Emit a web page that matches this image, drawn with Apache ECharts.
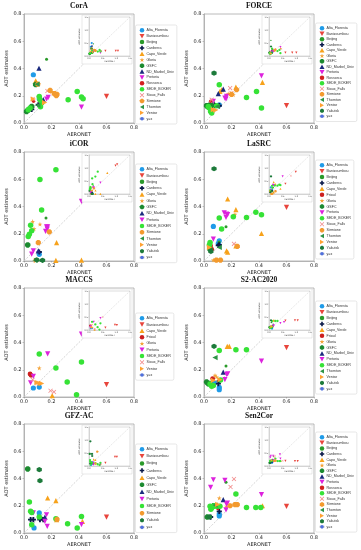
<!DOCTYPE html>
<html><head><meta charset="utf-8">
<script src="https://cdn.jsdelivr.net/npm/echarts@6/dist/echarts.min.js"></script>
<style>html,body{margin:0;padding:0;background:#fff}#c{width:361px;height:550px}</style>
</head><body><div id="c"></div><script>
// ---------------- DATA ----------------
const panelTitles = ['CorA','FORCE','iCOR','LaSRC','MACCS','S2-AC2020','GFZ-AC','Sen2Cor'];
const mainTicks = [0.0,0.2,0.4,0.6,0.8];
const insetTicks = [0.0,0.5,1.0,1.5];

const coraPoints = [
 ['Alta_Floresta',0.068,0.354],['Alta_Floresta',0.111,0.178],
 ['Banizoumbou',0.60,0.195],
 ['Beijing',0.164,0.468],
 ['Canberra',0.104,0.134],['Canberra',0.056,0.10],
 ['Capo_Verde',0.085,0.31],['Capo_Verde',0.092,0.293],['Capo_Verde',0.23,0.22],
 ['Gloria',0.20,0.23],['Gloria',0.104,0.19],
 ['GSFC',0.085,0.282],['GSFC',0.019,0.085],['GSFC',0.048,0.11],['GSFC',0.056,0.122],['GSFC',0.03,0.095],
 ['ND_Marbel_Univ',0.109,0.402],['ND_Marbel_Univ',0.14,0.171],
 ['Pretoria',0.176,0.188],['Pretoria',0.418,0.117],['Pretoria',0.164,0.176],
 ['Rossorca',0.07,0.16],
 ['SEDE_BOKER',0.387,0.232],['SEDE_BOKER',0.321,0.171],['SEDE_BOKER',0.418,0.19],['SEDE_BOKER',0.43,0.178],['SEDE_BOKER',0.111,0.195],['SEDE_BOKER',0.116,0.171],['SEDE_BOKER',0.128,0.146],['SEDE_BOKER',0.044,0.11],['SEDE_BOKER',0.031,0.098],['SEDE_BOKER',0.12,0.12],
 ['Sioux_Falls',0.063,0.176],['Sioux_Falls',0.17,0.235],
 ['Sirmione',0.19,0.24],['Sirmione',0.22,0.215],['Sirmione',0.235,0.2],['Sirmione',0.24,0.21],['Sirmione',0.1,0.285],
 ['Thornton',0.095,0.285],['Thornton',0.1,0.13],
 ['Venise',0.068,0.176],['Venise',0.15,0.15]
];
const coraInsetExtra = [['Banizoumbou',0.98,0.2],['Banizoumbou',1.06,0.2],['Sioux_Falls',0.45,0.2],['Alta_Floresta',0.1,0.5]];

const forcePoints = [
 ['Alta_Floresta',0.111,0.134],
 ['Banizoumbou',0.60,0.127],
 ['Beijing',0.07,0.15],['Beijing',0.16,0.2],
 ['Canberra',0.111,0.127],['Canberra',0.08,0.127],['Canberra',0.05,0.13],
 ['Capo_Verde',0.425,0.298],['Capo_Verde',0.232,0.263],['Capo_Verde',0.116,0.232],['Capo_Verde',0.128,0.244],
 ['Gloria',0.213,0.207],['Gloria',0.176,0.215],
 ['GSFC',0.019,0.127],['GSFC',0.031,0.117],['GSFC',0.056,0.127],['GSFC',0.04,0.13],
 ['ND_Marbel_Univ',0.14,0.249],['ND_Marbel_Univ',0.104,0.215],
 ['Pretoria',0.418,0.346],['Pretoria',0.152,0.183],['Pretoria',0.164,0.195],['Pretoria',0.16,0.176],['Pretoria',0.068,0.159],
 ['Rossorca',0.048,0.16],
 ['SEDE_BOKER',0.111,0.28],['SEDE_BOKER',0.309,0.188],['SEDE_BOKER',0.382,0.232],['SEDE_BOKER',0.418,0.11],['SEDE_BOKER',0.039,0.11],['SEDE_BOKER',0.048,0.085],['SEDE_BOKER',0.056,0.073],['SEDE_BOKER',0.031,0.122],['SEDE_BOKER',0.092,0.127],
 ['Sioux_Falls',0.19,0.256],['Sioux_Falls',0.056,0.171],['Sioux_Falls',0.2,0.22],
 ['Sirmione',0.237,0.244],['Sirmione',0.2,0.21],
 ['Thornton',0.097,0.122],
 ['Venise',0.068,0.098],['Venise',0.085,0.095],
 ['Yakutsk',0.073,0.366]
];
const forceInsetExtra = [['Banizoumbou',0.85,0.13],['Banizoumbou',1.0,0.13],['Sioux_Falls',0.45,0.28],['Beijing',0.07,0.6]];

const icorPoints = [
 ['Alta_Floresta',0.111,0.049],
 ['Beijing',0.16,0.315],
 ['Canberra',0.111,0.066],
 ['Capo_Verde',0.418,0.006],['Capo_Verde',0.232,0.005],['Capo_Verde',0.237,0.135],
 ['Gloria',0.063,0.29],['Gloria',0.116,0.27],['Gloria',0.073,0.236],
 ['GSFC',0.027,0.118],
 ['ND_Marbel_Univ',0.104,0.075],
 ['Pretoria',0.418,0.438],['Pretoria',0.164,0.251],['Pretoria',0.172,0.25],['Pretoria',0.169,0.234],['Pretoria',0.157,0.217],['Pretoria',0.068,0.074],['Pretoria',0.056,0.05],
 ['SEDE_BOKER',0.232,0.67],['SEDE_BOKER',0.116,0.598],['SEDE_BOKER',0.128,0.374],['SEDE_BOKER',0.048,0.263],['SEDE_BOKER',0.056,0.222],['SEDE_BOKER',0.039,0.197],['SEDE_BOKER',0.031,0.18],
 ['Sirmione',0.184,0.214],['Sirmione',0.104,0.135],
 ['Thornton',0.08,0.005],['Thornton',0.12,0.005],
 ['Venise',0.09,0.005],
 ['Yakutsk',0.092,0.008],['Yakutsk',0.135,0.005]
];
const icorInsetExtra = [['Banizoumbou',0.97,1.09],['Banizoumbou',1.03,1.14],['Capo_Verde',0.67,0.81],['SEDE_BOKER',0.32,0.86]];

const lasrcPoints = [
 ['Alta_Floresta',0.068,0.254],['Alta_Floresta',0.111,0.148],['Alta_Floresta',0.104,0.13],
 ['Banizoumbou',0.60,0.394],
 ['Beijing',0.16,0.251],['Beijing',0.11,0.14],
 ['Canberra',0.111,0.118],['Canberra',0.104,0.115],
 ['Capo_Verde',0.172,0.455],['Capo_Verde',0.232,0.377],['Capo_Verde',0.418,0.202],['Capo_Verde',0.232,0.111],['Capo_Verde',0.164,0.074],['Capo_Verde',0.172,0.065],
 ['Frioul',0.048,0.111],['Frioul',0.056,0.086],
 ['Gloria',0.225,0.342],['Gloria',0.068,0.007],['Gloria',0.08,0.007],['Gloria',0.1,0.007],
 ['GSFC',0.044,0.086],
 ['Pretoria',0.147,0.354],['Pretoria',0.164,0.345],['Pretoria',0.172,0.34],['Pretoria',0.16,0.32],['Pretoria',0.068,0.16],
 ['SEDE_BOKER',0.377,0.357],['SEDE_BOKER',0.418,0.34],['SEDE_BOKER',0.309,0.32],['SEDE_BOKER',0.213,0.325],['SEDE_BOKER',0.111,0.315],['SEDE_BOKER',0.128,0.234],['SEDE_BOKER',0.044,0.135],['SEDE_BOKER',0.039,0.118],
 ['Sioux_Falls',0.218,0.126],
 ['Sirmione',0.242,0.108],['Sirmione',0.09,0.007],['Sirmione',0.12,0.007],
 ['Thornton',0.111,0.1],
 ['Venise',0.04,0.1],
 ['Yakutsk',0.073,0.677],['Yakutsk',0.05,0.07]
];
const lasrcInsetExtra = [['Banizoumbou',0.98,0.85],['Sioux_Falls',0.8,0.7],['Pretoria',0.5,0.68]];

const maccsPoints = [
 ['Alta_Floresta',0.068,0.066],['Alta_Floresta',0.111,0.073],
 ['Banizoumbou',0.60,0.091],
 ['Capo_Verde',0.205,0.01],
 ['Frioul',0.044,0.169],['Frioul',0.051,0.159],
 ['Gloria',0.111,0.213],['Gloria',0.087,0.11],
 ['Pretoria',0.172,0.316],['Pretoria',0.418,0.462],['Pretoria',0.068,0.152],['Pretoria',0.048,0.103],
 ['SEDE_BOKER',0.111,0.316],['SEDE_BOKER',0.232,0.213],['SEDE_BOKER',0.418,0.257],['SEDE_BOKER',0.314,0.11],['SEDE_BOKER',0.382,0.017],
 ['Sioux_Falls',0.063,0.127],['Sioux_Falls',0.193,0.046],['Sioux_Falls',0.218,0.037],
 ['Venise',0.116,0.1],['Venise',0.128,0.1],['Venise',0.095,0.105]
];
const maccsInsetExtra = [['Banizoumbou',0.95,0.2],['Banizoumbou',1.02,0.19],['Sioux_Falls',0.5,0.5]];

const s2acPoints = [
 ['Alta_Floresta',0.111,0.054],['Alta_Floresta',0.075,0.103],['Alta_Floresta',0.111,0.07],
 ['Banizoumbou',0.60,0.362],
 ['Beijing',0.16,0.227],
 ['Canberra',0.111,0.117],['Canberra',0.104,0.098],
 ['Capo_Verde',0.169,0.372],['Capo_Verde',0.184,0.372],
 ['Frioul',0.063,0.135],
 ['Gloria',0.08,0.159],['Gloria',0.092,0.147],
 ['GSFC',0.019,0.11],['GSFC',0.031,0.098],['GSFC',0.04,0.1],
 ['ND_Marbel_Univ',0.14,0.183],
 ['Pretoria',0.418,0.264],['Pretoria',0.172,0.169],['Pretoria',0.165,0.165],['Pretoria',0.152,0.127],
 ['SEDE_BOKER',0.111,0.342],['SEDE_BOKER',0.232,0.347],['SEDE_BOKER',0.309,0.347],['SEDE_BOKER',0.044,0.095],['SEDE_BOKER',0.056,0.078],['SEDE_BOKER',0.068,0.085],['SEDE_BOKER',0.12,0.125],
 ['Thornton',0.08,0.289],
 ['Venise',0.116,0.127],['Venise',0.068,0.122],
 ['Yakutsk',0.073,0.372]
];
const s2acInsetExtra = [['Banizoumbou',0.95,0.37],['Banizoumbou',1.05,0.37],['Pretoria',0.55,0.3]];

const gfzPoints = [
 ['Alta_Floresta',0.111,0.147],['Alta_Floresta',0.073,0.037],
 ['Banizoumbou',0.60,0.117],
 ['Beijing',0.13,0.11],
 ['Canberra',0.048,0.098],['Canberra',0.068,0.098],['Canberra',0.116,0.098],['Canberra',0.14,0.098],
 ['Capo_Verde',0.172,0.257],['Capo_Verde',0.232,0.237],['Capo_Verde',0.425,0.086],['Capo_Verde',0.237,0.098],
 ['GSFC',0.027,0.47],
 ['ND_Marbel_Univ',0.152,0.117],
 ['Pretoria',0.068,0.147],['Pretoria',0.164,0.134],['Pretoria',0.152,0.086],['Pretoria',0.169,0.049],['Pretoria',0.418,0.061],
 ['SEDE_BOKER',0.039,0.227],['SEDE_BOKER',0.048,0.159],['SEDE_BOKER',0.056,0.15],['SEDE_BOKER',0.056,0.061],['SEDE_BOKER',0.232,0.105],['SEDE_BOKER',0.317,0.068],['SEDE_BOKER',0.387,0.037],['SEDE_BOKER',0.418,0.122],['SEDE_BOKER',0.111,0.117],
 ['Sirmione',0.24,0.1],
 ['Yakutsk',0.111,0.465],['Yakutsk',0.116,0.384]
];
const gfzInsetExtra = [['Banizoumbou',0.95,0.35],['Banizoumbou',1.02,0.35],['Yakutsk',0.05,0.95],['Sirmione',0.3,0.55]];

const sen2corPoints = [
 ['Alta_Floresta',0.111,0.139],['Alta_Floresta',0.111,0.125],
 ['Banizoumbou',0.60,0.196],
 ['Beijing',0.16,0.372],
 ['Canberra',0.111,0.159],['Canberra',0.048,0.117],
 ['Capo_Verde',0.425,0.2],
 ['Gloria',0.111,0.257],['Gloria',0.164,0.196],
 ['GSFC',0.024,0.117],['GSFC',0.07,0.2],
 ['ND_Marbel_Univ',0.14,0.245],
 ['Pretoria',0.068,0.391],['Pretoria',0.152,0.386],['Pretoria',0.048,0.335],['Pretoria',0.418,0.281],['Pretoria',0.164,0.21],['Pretoria',0.17,0.22],['Pretoria',0.16,0.17],
 ['Rossorca',0.1,0.18],
 ['SEDE_BOKER',0.232,0.286],['SEDE_BOKER',0.309,0.188],['SEDE_BOKER',0.377,0.188],['SEDE_BOKER',0.413,0.188],['SEDE_BOKER',0.044,0.196],['SEDE_BOKER',0.056,0.185],['SEDE_BOKER',0.068,0.196],['SEDE_BOKER',0.08,0.2],['SEDE_BOKER',0.092,0.196],['SEDE_BOKER',0.116,0.196],['SEDE_BOKER',0.05,0.175],
 ['Sioux_Falls',0.218,0.396],['Sioux_Falls',0.193,0.338],
 ['Sirmione',0.225,0.208],['Sirmione',0.242,0.208],['Sirmione',0.19,0.2],
 ['Thornton',0.08,0.205],
 ['Venise',0.1,0.21],
 ['Yakutsk',0.04,0.118]
];
const sen2corInsetExtra = [['Banizoumbou',0.95,0.19],['Banizoumbou',1.05,0.19],['Sioux_Falls',0.5,0.2],['Pretoria',0.4,0.45]];

const coraLegend = ['Alta_Floresta','Banizoumbou','Beijing','Canberra','Capo_Verde','Gloria','GSFC','ND_Marbel_Univ','Pretoria','Rossorca','SEDE_BOKER','Sioux_Falls','Sirmione','Thornton','Venise','y=x'];
const forceLegend = ['Alta_Floresta','Banizoumbou','Beijing','Canberra','Capo_Verde','Gloria','GSFC','ND_Marbel_Univ','Pretoria','Rossorca','SEDE_BOKER','Sioux_Falls','Sirmione','Thornton','Venise','Yakutsk','y=x'];
const icorLegend = ['Alta_Floresta','Banizoumbou','Beijing','Canberra','Capo_Verde','Gloria','GSFC','ND_Marbel_Univ','Pretoria','SEDE_BOKER','Sirmione','Thornton','Venise','Yakutsk','y=x'];
const lasrcLegend = ['Alta_Floresta','Banizoumbou','Beijing','Canberra','Capo_Verde','Frioul','Gloria','GSFC','Pretoria','SEDE_BOKER','Sioux_Falls','Sirmione','Thornton','Venise','Yakutsk','y=x'];
const maccsLegend = ['Alta_Floresta','Banizoumbou','Capo_Verde','Frioul','Gloria','Pretoria','SEDE_BOKER','Sioux_Falls','Venise','y=x'];
const s2acLegend = ['Alta_Floresta','Banizoumbou','Beijing','Canberra','Capo_Verde','Frioul','Gloria','GSFC','ND_Marbel_Univ','Pretoria','SEDE_BOKER','Thornton','Venise','Yakutsk','y=x'];
const gfzLegend = ['Alta_Floresta','Banizoumbou','Beijing','Canberra','Capo_Verde','GSFC','ND_Marbel_Univ','Pretoria','SEDE_BOKER','Sirmione','Yakutsk','y=x'];
const sen2corLegend = ['Alta_Floresta','Banizoumbou','Beijing','Canberra','Capo_Verde','Gloria','GSFC','ND_Marbel_Univ','Pretoria','Rossorca','SEDE_BOKER','Sioux_Falls','Sirmione','Thornton','Venise','Yakutsk','y=x'];

// ---------------- STYLE / LAYOUT ----------------
const TRI_DOWN='path://M0,0L10,0L5,9Z', TRI_LEFT='path://M9,0L9,10L0,5Z', TRI_RIGHT='path://M0,0L0,10L9,5Z';
const PLUS='path://M3.2,0H6.8V3.2H10V6.8H6.8V10H3.2V6.8H0V3.2H3.2Z';
const XMARK='path://M0,1.3L1.3,0L5,3.7L8.7,0L10,1.3L6.3,5L10,8.7L8.7,10L5,6.3L1.3,10L0,8.7L3.7,5Z';
const STAR='path://M5,0L6.2,3.6L10,3.6L7,5.9L8.1,9.5L5,7.3L1.9,9.5L3,5.9L0,3.6L3.8,3.6Z';
const OCT='path://M3,0H7L10,3V7L7,10H3L0,7V3Z';
const HEX='path://M5,0L9.3,2.5V7.5L5,10L0.7,7.5V2.5Z';
const siteStyle = {
 Alta_Floresta:{c:'#1f9be8',s:'circle',z:5.2},
 Banizoumbou:{c:'#e8453c',s:TRI_DOWN,z:5.2},
 Beijing:{c:'#2a9a2a',s:'circle',z:3},
 Canberra:{c:'#0b1a4a',s:PLUS,z:5.2},
 Capo_Verde:{c:'#f7a21b',s:'triangle',z:5.2},
 Frioul:{c:'#cc1f1f',s:'circle',z:4.8},
 Gloria:{c:'#f4a338',s:STAR,z:4.8},
 GSFC:{c:'#1c8a30',s:OCT,z:5.5},
 ND_Marbel_Univ:{c:'#1a2a7e',s:'triangle',z:5.2},
 Pretoria:{c:'#dd22dd',s:TRI_DOWN,z:5.2},
 Rossorca:{c:'#d42020',s:'circle',z:3.4},
 SEDE_BOKER:{c:'#36e236',s:'circle',z:5.5},
 Sioux_Falls:{c:'#f29090',s:XMARK,z:4.6},
 Sirmione:{c:'#f39a2e',s:OCT,z:5.2},
 Thornton:{c:'#2e9446',s:TRI_LEFT,z:5.2},
 Venise:{c:'#ffa232',s:TRI_RIGHT,z:5.2},
 Yakutsk:{c:'#1c7a3a',s:HEX,z:5.2}
};
const panels = [
 {pts:coraPoints, ext:coraInsetExtra, leg:coraLegend, lt:30, sp:5.9},
 {pts:forcePoints, ext:forceInsetExtra, leg:forceLegend, lt:28, sp:5.5},
 {pts:icorPoints, ext:icorInsetExtra, leg:icorLegend, lt:169, sp:6.3},
 {pts:lasrcPoints, ext:lasrcInsetExtra, leg:lasrcLegend, lt:165, sp:5.9},
 {pts:maccsPoints, ext:maccsInsetExtra, leg:maccsLegend, lt:318, sp:6.3},
 {pts:s2acPoints, ext:s2acInsetExtra, leg:s2acLegend, lt:306, sp:5.9},
 {pts:gfzPoints, ext:gfzInsetExtra, leg:gfzLegend, lt:449, sp:7.1},
 {pts:sen2corPoints, ext:sen2corInsetExtra, leg:sen2corLegend, lt:437, sp:5.6}
];
const plotTops=[14,152,288,424], plotLefts=[24,204], PW=110, PH=109;

const grids=[], xAxes=[], yAxes=[], series=[], legends=[], graphics=[];
function group(rows){const m={};rows.forEach(r=>{(m[r[0]]=m[r[0]]||[]).push([r[1],r[2]]);});return m;}
const FONT='DejaVu Sans';
panels.forEach((p,i)=>{
  const L=plotLefts[i%2], T=plotTops[Math.floor(i/2)];
  const mi=2*i, ii=2*i+1;
  grids.push({left:L,top:T,width:PW,height:PH,show:true,borderColor:'#a8a8a8',borderWidth:0.8});
  grids.push({left:L+65,top:T+3,width:41,height:39,show:true,borderColor:'#bbb',borderWidth:0.5,z:6});
  const mainAx = (isY)=>({type:'value',gridIndex:mi,min:0,max:0.8,interval:0.2,
     name:isY?'AOT estimates':'AERONET',nameLocation:'middle',nameGap:isY?11:9,
     nameTextStyle:{fontSize:5,color:'#222',fontFamily:FONT},
     axisLine:{show:true,lineStyle:{color:'#a8a8a8',width:0.8}},
     axisTick:{show:true,length:1.5,lineStyle:{color:'#888',width:0.5}},
     axisLabel:{fontSize:5,color:'#222',margin:2.5,fontFamily:FONT,formatter:v=>v.toFixed(1)},
     splitLine:{show:false}});
  xAxes.push(mainAx(false)); yAxes.push(mainAx(true));
  const inAx = (isY)=>({type:'value',gridIndex:ii,min:0,max:1.5,interval:0.5,z:6,
     name:isY?'AOT estimates':'AERONET',nameLocation:'middle',nameGap:isY?6:4,
     nameTextStyle:{fontSize:2.2,color:'#444',fontFamily:FONT},
     axisLine:{show:true,lineStyle:{color:'#bbb',width:0.5}},
     axisTick:{show:true,length:0.8,lineStyle:{color:'#999',width:0.3}},
     axisLabel:{fontSize:2.2,color:'#444',margin:1,fontFamily:FONT,formatter:v=>v.toFixed(1)},
     splitLine:{show:false}});
  xAxes.push(inAx(false)); yAxes.push(inAx(true));
  graphics.push({type:'rect',shape:{x:L+58,y:T+1,width:50,height:49},style:{fill:'#fff',stroke:'#d0d0d0',lineWidth:0.5},z:4,silent:true});
  graphics.push({type:'text',x:L+PW/2,y:T-7.5,z:10,style:{text:panelTitles[i],font:'bold 7.5px "Liberation Serif"',fill:'#111',textAlign:'center',textVerticalAlign:'middle'}});
  series.push({type:'line',name:'y=x',xAxisIndex:mi,yAxisIndex:mi,data:[[0,0],[0.8,0.8]],symbol:'none',silent:true,z:2,
     lineStyle:{color:'#c8c8c8',width:0.8,type:[2,1.5]}});
  series.push({type:'line',name:'y=x',xAxisIndex:ii,yAxisIndex:ii,data:[[0,0],[1.5,1.5]],symbol:'none',silent:true,z:7,
     lineStyle:{color:'#c8c8c8',width:0.5,type:[1.5,1]}});
  const gm=group(p.pts), gi=group(p.pts.concat(p.ext));
  p.leg.forEach(site=>{
    if(site==='y=x') return;
    const st=siteStyle[site];
    if(gm[site]) series.push({type:'scatter',name:site,xAxisIndex:mi,yAxisIndex:mi,data:gm[site],symbol:st.s,symbolSize:st.z,z:3,
       itemStyle:{color:st.c,opacity:1}});
    if(gi[site]) series.push({type:'scatter',name:site,xAxisIndex:ii,yAxisIndex:ii,data:gi[site],symbol:st.s,symbolSize:st.z*0.42,z:8,
       itemStyle:{color:st.c,opacity:1}});
  });
  legends.push({orient:'vertical',left:L+PW+1.5,top:p.lt-5,data:p.leg,selectedMode:false,
     itemWidth:5,itemHeight:4.5,itemGap:p.sp-4.5,padding:[3,3,3,3],
     borderColor:'#cfcfcf',borderWidth:0.5,borderRadius:1.5,backgroundColor:'#fff',
     textStyle:{fontSize:3.6,lineHeight:4.5,color:'#333',fontFamily:'Liberation Sans',padding:[0,0,0,-3]}});
});

const chart = echarts.init(document.getElementById('c'), null, {renderer:'canvas'});
chart.setOption({animation:false,backgroundColor:'#fff',grid:grids,xAxis:xAxes,yAxis:yAxes,series:series,legend:legends,graphic:graphics});
</script></body></html>
